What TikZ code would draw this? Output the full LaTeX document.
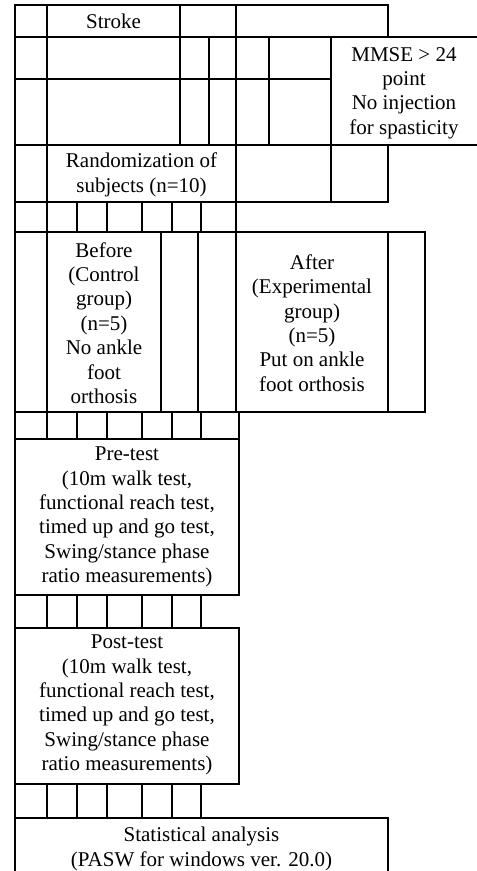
\documentclass[tikz,border=0pt]{standalone}
\usepackage{fontspec}
\setmainfont{Liberation Serif}
\begin{document}
\begin{tikzpicture}[x=1pt,y=-1pt,
  grid/.style={line width=1.3pt,line cap=rect},
  txt/.style={align=center,inner sep=0pt,font=\fontsize{21}{24.4}\selectfont}]
\useasboundingbox (0,0) rectangle (477,871);
\begin{scope}
\clip (0,0) rectangle (477,871);
% horizontal lines
\draw[grid] (15,5) -- (388,5);
\draw[grid] (15,37) -- (480,37);
\draw[grid] (15,79) -- (331,79);
\draw[grid] (15,145) -- (480,145);
\draw[grid] (15,202) -- (388,202);
\draw[grid] (15,232) -- (425,232);
\draw[grid] (15,412) -- (425,412);
\draw[grid] (15,439) -- (239,439);
\draw[grid] (15,595) -- (239,595);
\draw[grid] (15,628) -- (239,628);
\draw[grid] (15,784) -- (239,784);
\draw[grid] (15,818) -- (388,818);
% vertical lines
\draw[grid] (15,5) -- (15,875);
\draw[grid] (47,5) -- (47,439);
\draw[grid] (47,595) -- (47,628);
\draw[grid] (47,784) -- (47,818);
\draw[grid] (180,5) -- (180,145);
\draw[grid] (209,37) -- (209,145);
\draw[grid] (236,5) -- (236,412);
\draw[grid] (269,37) -- (269,145);
\draw[grid] (331,37) -- (331,202);
\draw[grid] (388,5) -- (388,37);
\draw[grid] (388,145) -- (388,202);
\draw[grid] (388,232) -- (388,412);
\draw[grid] (388,818) -- (388,875);
\draw[grid] (425,232) -- (425,412);
\draw[grid] (161,232) -- (161,412);
\draw[grid] (198,232) -- (198,412);
\draw[grid] (239,412) -- (239,595);
\draw[grid] (239,628) -- (239,784);
\foreach \x in {77,107,142,172,201}{
  \draw[grid] (\x,202) -- (\x,232);
  \draw[grid] (\x,412) -- (\x,439);
  \draw[grid] (\x,595) -- (\x,628);
  \draw[grid] (\x,784) -- (\x,818);
}
\end{scope}
% texts
\node[txt] (stroke) at (113.5,21) {Stroke};
\node[txt] (mmse) at (404,93) {MMSE > 24\\point\\No injection\\for spasticity};
\node[txt] (rand) at (141.5,175) {Randomization of\\subjects (n=10)};
\node[txt] (before) at (104,323) {Before\\(Control\\group)\\(n=5)\\No ankle\\foot\\orthosis};
\node[txt] (after) at (312,323) {After\\(Experimental\\group)\\(n=5)\\Put on ankle\\foot orthosis};
\node[txt] (pre) at (127,517) {Pre-test\\(10m walk test,\\functional reach test,\\timed up and go test,\\Swing/stance phase\\ratio measurements)};
\node[txt] (post) at (127,705) {Post-test\\(10m walk test,\\functional reach test,\\timed up and go test,\\Swing/stance phase\\ratio measurements)};
\node[txt] (stat) at (201.5,849) {Statistical analysis\\(PASW for windows ver. 20.0)};
\end{tikzpicture}
\end{document}
